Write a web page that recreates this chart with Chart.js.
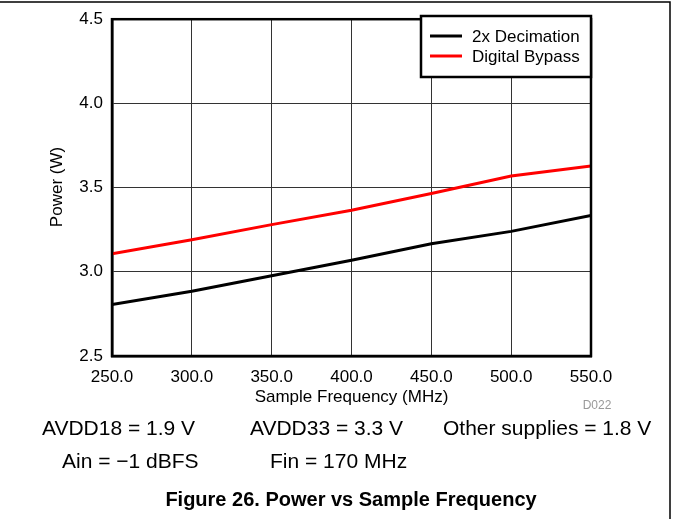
<!DOCTYPE html>
<html>
<head>
<meta charset="utf-8">
<script src="https://cdn.jsdelivr.net/npm/chart.js@4"></script>
<style>
  html, body { margin: 0; padding: 0; background: #fff; }
  #wrap { width: 677px; height: 519px; }
</style>
</head>
<body>
<div id="wrap"><canvas id="powerChart" width="677" height="519"></canvas></div>
<script>
// data
const sampleFreq = [250, 300, 350, 400, 450, 500, 550];
const decimation2x = [2.805, 2.885, 2.976, 3.069, 3.166, 3.240, 3.335];
const digitalBypass = [3.107, 3.190, 3.280, 3.366, 3.465, 3.569, 3.628];

const seriesLabels = ["2x Decimation", "Digital Bypass"];
const xTitle = "Sample Frequency (MHz)";
const yTitle = "Power (W)";
const notesRow1 = ["AVDD18 = 1.9 V", "AVDD33 = 3.3 V", "Other supplies = 1.8 V"];
const notesRow2 = ["Ain = \u22121 dBFS", "Fin = 170 MHz"];
const caption = "Figure 26. Power vs Sample Frequency";

const FONT = "'Liberation Sans', Arial, sans-serif";

const toPoints = ys => sampleFreq.map((x, i) => ({ x, y: ys[i] }));

/* ================================
   FRAME, LEGEND AND TEXT
================================ */
const figurePlugin = {
  id: "figureText",
  afterDatasetsDraw(chart) {
    const { ctx, chartArea: a } = chart;
    ctx.save();
    ctx.strokeStyle = "#000";
    ctx.lineWidth = 2.5;
    ctx.strokeRect(a.left, a.top, a.right - a.left, a.bottom - a.top);
    ctx.restore();
  },
  afterDraw(chart) {
    const { ctx, chartArea: a } = chart;
    ctx.save();

    // outer page rules
    ctx.strokeStyle = "#000";
    ctx.lineWidth = 1.5;
    ctx.beginPath();
    ctx.moveTo(0, 2);
    ctx.lineTo(670, 2);
    ctx.lineTo(670, 519);
    ctx.stroke();

    // legend box
    const lx = 421, ly = 16, lw = a.right - 421, lh = 61;
    ctx.fillStyle = "#fff";
    ctx.fillRect(lx, ly, lw, lh);
    ctx.lineWidth = 2.5;
    ctx.strokeRect(lx, ly, lw, lh);
    ctx.font = "17px " + FONT;
    ctx.textBaseline = "middle";
    ctx.textAlign = "left";
    chart.data.datasets.forEach((ds, i) => {
      const cy = 36 + i * 20;
      ctx.strokeStyle = ds.borderColor;
      ctx.lineWidth = 3;
      ctx.beginPath();
      ctx.moveTo(430, cy);
      ctx.lineTo(462, cy);
      ctx.stroke();
      ctx.fillStyle = "#000";
      ctx.fillText(ds.label, 472, cy + 1);
    });

    // axis titles
    ctx.fillStyle = "#000";
    ctx.font = "17px " + FONT;
    ctx.textAlign = "center";
    ctx.fillText(xTitle, (a.left + a.right) / 2, 397);
    ctx.save();
    ctx.translate(57, 187);
    ctx.rotate(-Math.PI / 2);
    ctx.fillText(yTitle, 0, 0);
    ctx.restore();

    // figure id
    ctx.fillStyle = "#999";
    ctx.font = "12px " + FONT;
    ctx.fillText("D022", 597, 406);

    // conditions
    ctx.fillStyle = "#000";
    ctx.font = "21px " + FONT;
    ctx.textAlign = "left";
    [42, 250, 443].forEach((x, i) => ctx.fillText(notesRow1[i], x, 429));
    [62, 270].forEach((x, i) => ctx.fillText(notesRow2[i], x, 462));

    // caption
    ctx.font = "bold 20px " + FONT;
    ctx.textAlign = "center";
    ctx.fillText(caption, 351, 500);

    ctx.restore();
  }
};

/* ================================
   CHART
================================ */
new Chart(document.getElementById("powerChart"), {
  type: "line",
  data: {
    datasets: [
      {
        label: seriesLabels[0],
        data: toPoints(decimation2x),
        borderColor: "#000000",
        borderWidth: 3,
        pointRadius: 0,
        tension: 0
      },
      {
        label: seriesLabels[1],
        data: toPoints(digitalBypass),
        borderColor: "#ff0000",
        borderWidth: 3,
        pointRadius: 0,
        tension: 0
      }
    ]
  },
  options: {
    responsive: false,
    devicePixelRatio: 1,
    animation: false,
    layout: { padding: { left: 0, right: 86, top: 16, bottom: 123 } },
    plugins: {
      legend: { display: false },
      tooltip: { enabled: false }
    },
    scales: {
      x: {
        type: "linear",
        min: 250,
        max: 550,
        afterFit: s => { s.height = 40; },
        grid: { color: "#333", lineWidth: 1, drawTicks: false },
        border: { display: true, color: "#000", width: 2.5 },
        ticks: {
          stepSize: 50,
          padding: 11,
          color: "#000",
          font: { family: FONT, size: 17 },
          maxRotation: 0,
          callback: v => Number(v).toFixed(1)
        }
      },
      y: {
        min: 2.5,
        max: 4.5,
        afterFit: s => { s.width = 112; },
        grid: { color: "#333", lineWidth: 1, drawTicks: false },
        border: { display: true, color: "#000", width: 2.5 },
        ticks: {
          stepSize: 0.5,
          padding: 9,
          color: "#000",
          font: { family: FONT, size: 17 },
          callback: v => Number(v).toFixed(1)
        }
      }
    }
  },
  plugins: [figurePlugin]
});
</script>
</body>
</html>
